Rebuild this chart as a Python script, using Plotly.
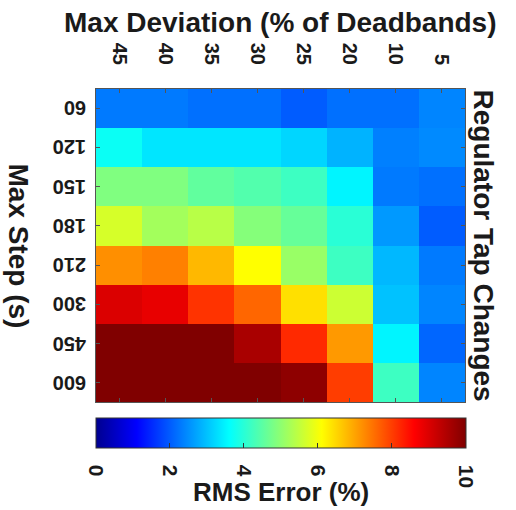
import plotly.graph_objects as go

max_dev = ["45", "40", "35", "30", "25", "20", "10", "5"]
max_step = ["60", "120", "150", "180", "210", "300", "450", "600"]
rms_error = [
    [2.3, 2.3, 2.2, 2.2, 2.0, 2.2, 2.2, 2.4],
    [3.7, 3.35, 3.35, 3.35, 3.2, 2.85, 2.35, 2.45],
    [4.85, 4.85, 4.55, 4.4, 4.2, 3.5, 2.3, 2.2],
    [5.7, 5.2, 5.4, 4.9, 4.6, 4.0, 2.6, 2.0],
    [7.2, 7.35, 6.8, 6.1, 5.1, 4.2, 2.9, 2.3],
    [9.0, 8.85, 8.1, 7.6, 6.4, 5.6, 3.0, 2.4],
    [10.0, 10.0, 10.0, 9.55, 8.2, 7.1, 3.5, 2.1],
    [10.0, 10.0, 10.0, 10.0, 9.85, 8.0, 4.2, 2.4],
]
cbar_ticks = [0, 2, 4, 6, 8, 10]

jet = [
    [0.0, "rgb(0,0,143)"],
    [0.11, "rgb(0,0,255)"],
    [0.36, "rgb(0,255,255)"],
    [0.61, "rgb(255,255,0)"],
    [0.86, "rgb(255,0,0)"],
    [1.0, "rgb(128,0,0)"],
]

FONT = "Liberation Sans"
TXT = "#1a1a1a"
NB = "\u00a0"

fig = go.Figure(
    go.Heatmap(
        z=rms_error,
        x=max_dev,
        y=max_step,
        colorscale=jet,
        zmin=0,
        zmax=10,
        colorbar=dict(
            orientation="h",
            x=0.5,
            xanchor="center",
            y=-0.051,
            yanchor="top",
            len=370,
            lenmode="pixels",
            thickness=30,
            xpad=0,
            ypad=0,
            outlinewidth=1,
            outlinecolor="#333333",
            tickvals=cbar_ticks,
            ticktext=[NB * 2 + str(v) for v in cbar_ticks],
            ticks="inside",
            ticklen=5,
            tickcolor="#333333",
            tickangle=90,
            tickfont=dict(family=FONT, size=21, color=TXT, weight="bold"),
        ),
    )
)

annotations = [
    dict(text="Max Deviation (% of Deadbands)", xref="paper", yref="paper",
         x=0.5, y=1.0, yshift=67, xanchor="center", yanchor="middle",
         showarrow=False, font=dict(family=FONT, size=28, color=TXT, weight="bold")),
    dict(text="Max Step (s)", xref="paper", yref="paper",
         x=0.0, y=0.5, xshift=-78, xanchor="center", yanchor="middle", textangle=90,
         showarrow=False, font=dict(family=FONT, size=28, color=TXT, weight="bold")),
    dict(text="Regulator Tap Changes", xref="paper", yref="paper",
         x=1.0, y=0.5, xshift=18, xanchor="center", yanchor="middle", textangle=90,
         showarrow=False, font=dict(family=FONT, size=28, color=TXT, weight="bold")),
    dict(text="RMS Error (%)", xref="paper", yref="paper",
         x=0.5, y=0.0, yshift=-90, xanchor="center", yanchor="middle",
         showarrow=False, font=dict(family=FONT, size=26, color=TXT, weight="bold")),
]
for i, lab in enumerate(max_step):
    annotations.append(dict(
        text=lab, xref="paper", yref="y", x=0.0, y=i, xshift=-8,
        xanchor="right", yanchor="middle", textangle=180, showarrow=False,
        font=dict(family=FONT, size=20, color=TXT, weight="bold")))

fig.update_layout(
    width=516,
    height=510,
    margin=dict(l=96, r=51, t=89, b=108),
    paper_bgcolor="white",
    plot_bgcolor="white",
    xaxis=dict(
        side="top",
        type="category",
        tickangle=90,
        ticks="inside",
        ticklen=4,
        tickcolor="#555555",
        showline=True,
        mirror="allticks",
        linecolor="#555555",
        linewidth=1,
        tickfont=dict(family=FONT, size=20, color=TXT, weight="bold"),
        ticklabelstandoff=16,
    ),
    yaxis=dict(
        type="category",
        categoryorder="array",
        categoryarray=max_step,
        autorange="reversed",
        showticklabels=False,
        ticks="inside",
        ticklen=4,
        tickcolor="#555555",
        showline=True,
        mirror="allticks",
        linecolor="#555555",
        linewidth=1,
    ),
    annotations=annotations,
)

fig.write_html("out.html")
